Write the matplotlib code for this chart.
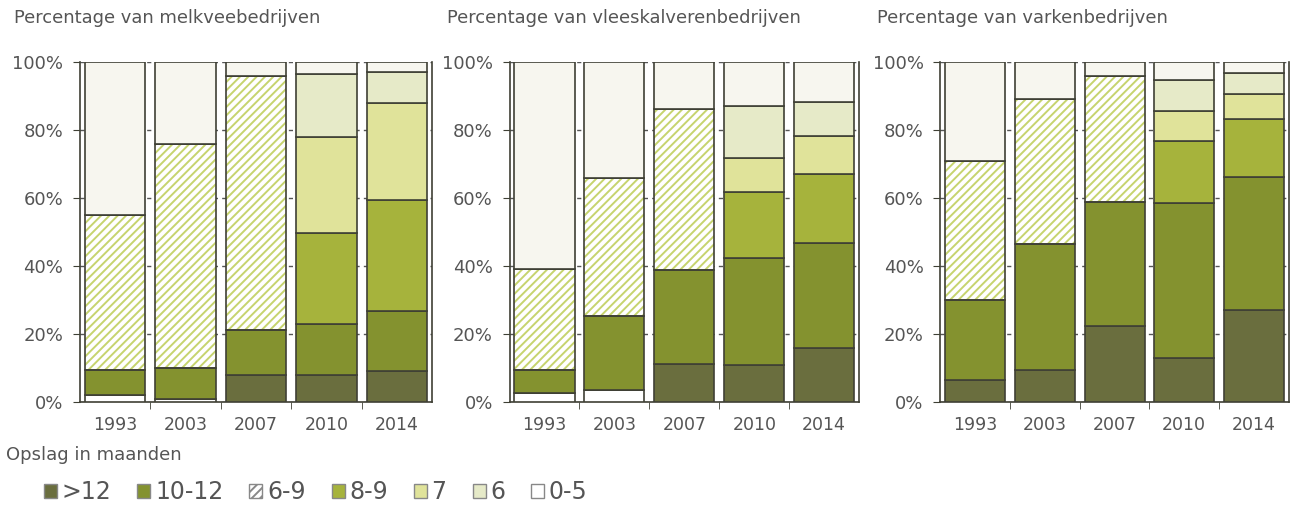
import matplotlib
matplotlib.use("Agg")
import matplotlib.pyplot as plt
from matplotlib.patches import Patch
import numpy as np

# Years on the x axis
years = ["1993", "2003", "2007", "2010", "2014"]

titles = ["Percentage van melkveebedrijven",
          "Percentage van vleeskalverenbedrijven",
          "Percentage van varkenbedrijven"]

# Share per storage class (percent), one list per panel
# melkvee
melk_leeg = [2.0, 1.0, 0.0, 0.0, 0.0]
melk_gt12 = [0.0, 0.0, 8.0, 7.8, 9.0]
melk_10_12 = [7.3, 9.0, 13.3, 15.0, 17.8]
melk_6_9 = [45.7, 66.0, 74.7, 0.0, 0.0]
melk_8_9 = [0.0, 0.0, 0.0, 26.9, 32.7]
melk_7 = [0.0, 0.0, 0.0, 28.3, 28.5]
melk_6 = [0.0, 0.0, 0.0, 18.4, 9.0]
melk_0_5 = [45.0, 24.0, 4.0, 3.6, 3.0]

# vleeskalveren
kalf_leeg = [2.5, 3.6, 0.0, 0.0, 0.0]
kalf_gt12 = [0.0, 0.0, 11.3, 11.0, 15.9]
kalf_10_12 = [6.8, 21.7, 27.5, 31.4, 30.8]
kalf_6_9 = [29.7, 40.7, 47.4, 0.0, 0.0]
kalf_8_9 = [0.0, 0.0, 0.0, 19.3, 20.4]
kalf_7 = [0.0, 0.0, 0.0, 10.0, 11.2]
kalf_6 = [0.0, 0.0, 0.0, 15.4, 10.1]
kalf_0_5 = [61.0, 34.0, 13.8, 12.9, 11.6]

# varkens
varken_leeg = [0.0, 0.0, 0.0, 0.0, 0.0]
varken_gt12 = [6.4, 9.5, 22.3, 12.8, 27.0]
varken_10_12 = [23.6, 37.0, 36.6, 45.8, 39.3]
varken_6_9 = [40.9, 42.6, 37.1, 0.0, 0.0]
varken_8_9 = [0.0, 0.0, 0.0, 18.2, 17.0]
varken_7 = [0.0, 0.0, 0.0, 8.7, 7.3]
varken_6 = [0.0, 0.0, 0.0, 9.3, 6.1]
varken_0_5 = [29.1, 10.9, 4.0, 5.2, 3.3]

labels = [">12", "10-12", "6-9", "8-9", "7", "6", "0-5"]

panels = [
  [melk_leeg, melk_gt12, melk_10_12, melk_6_9, melk_8_9, melk_7, melk_6, melk_0_5],
  [kalf_leeg, kalf_gt12, kalf_10_12, kalf_6_9, kalf_8_9, kalf_7, kalf_6, kalf_0_5],
  [varken_leeg, varken_gt12, varken_10_12, varken_6_9, varken_8_9, varken_7, varken_6, varken_0_5],
]

# colours, bottom to top (first one is the unlabelled white block)
colors = ["#ffffff", "#6a6e3e", "#84922f", None, "#a6b33c", "#e0e39a", "#e6eac8", "#f7f6ef"]
hatch_col = "#c6d46e"
edge_col = "#3f4035"
text_col = "#555555"

plt.rcParams['hatch.linewidth'] = 1.4
plt.rcParams['font.family'] = 'DejaVu Sans'

fig = plt.figure(figsize=(12.9, 5.05), dpi=100)

# axes rectangles (left, bottom, width, height) in figure fraction
rects = [
  [0.062, 0.204, 0.273, 0.673],
  [0.395, 0.204, 0.271, 0.673],
  [0.729, 0.204, 0.270, 0.673],
]
title_x = [14, 447, 877]

x = np.arange(len(years))
width = 0.86

for p in range(3):
  ax = fig.add_axes(rects[p])
  bottom = np.zeros(len(years))
  for s, vals in enumerate(panels[p]):
    vals = np.array(vals)
    if colors[s] is None:
      # hatched 6-9 block
      ax.bar(x, vals, width, bottom=bottom, color="white", edgecolor=hatch_col,
             hatch="////", linewidth=0, zorder=2)
      ax.bar(x, vals, width, bottom=bottom, fill=False, edgecolor=edge_col,
             linewidth=1.2, zorder=3)
    else:
      ax.bar(x, vals, width, bottom=bottom, color=colors[s], edgecolor=edge_col,
             linewidth=1.2, zorder=3)
    bottom += vals

  ax.set_xlim(-0.5, 4.5)
  ax.set_ylim(0, 100)
  ax.set_yticks([0, 20, 40, 60, 80, 100])
  ax.set_yticklabels(["0%", "20%", "40%", "60%", "80%", "100%"])
  ax.set_xticks(x)
  ax.set_xticklabels(years)
  ax.set_xticks([0.5, 1.5, 2.5, 3.5], minor=True)
  ax.tick_params(axis='x', which='major', length=0, pad=10, labelsize=12.5, labelcolor=text_col)
  ax.tick_params(axis='x', which='minor', length=5, direction='out', color=edge_col)
  ax.tick_params(axis='y', length=5, direction='out', color=edge_col, labelsize=13,
                 labelcolor=text_col, pad=7)
  ax.yaxis.grid(True, linestyle=(0, (3, 3)), color="#555555", linewidth=1.0, zorder=0)
  ax.set_axisbelow(True)
  ax.spines['top'].set_visible(False)
  for sp in ['left', 'bottom', 'right']:
    ax.spines[sp].set_color(edge_col)
    ax.spines[sp].set_linewidth(1.2)

  fig.text(title_x[p] / 1290, 1 - 18 / 505, titles[p], fontsize=12.9, color=text_col,
           ha='left', va='center')

fig.text(6 / 1290, 1 - 455 / 505, "Opslag in maanden", fontsize=13, color=text_col,
         ha='left', va='center')

# Legend
handles = []
for i, lab in enumerate(labels):
  c = colors[i + 1]
  if c is None:
    handles.append(Patch(facecolor="white", edgecolor="#888888", hatch="////", label=lab))
  else:
    handles.append(Patch(facecolor=c, edgecolor="#888888", label=lab))
handles[-1] = Patch(facecolor="white", edgecolor="#888888", label="0-5")

leg = fig.legend(handles=handles, loc='center left', bbox_to_anchor=(44 / 1290, 1 - 492 / 505),
                 ncol=7, frameon=False, fontsize=17, handlelength=0.55, handleheight=0.55,
                 handletextpad=0.2, columnspacing=1.1, borderaxespad=0, borderpad=0)
for t in leg.get_texts():
  t.set_color(text_col)

fig.savefig("out.png", dpi=100, facecolor="white")
